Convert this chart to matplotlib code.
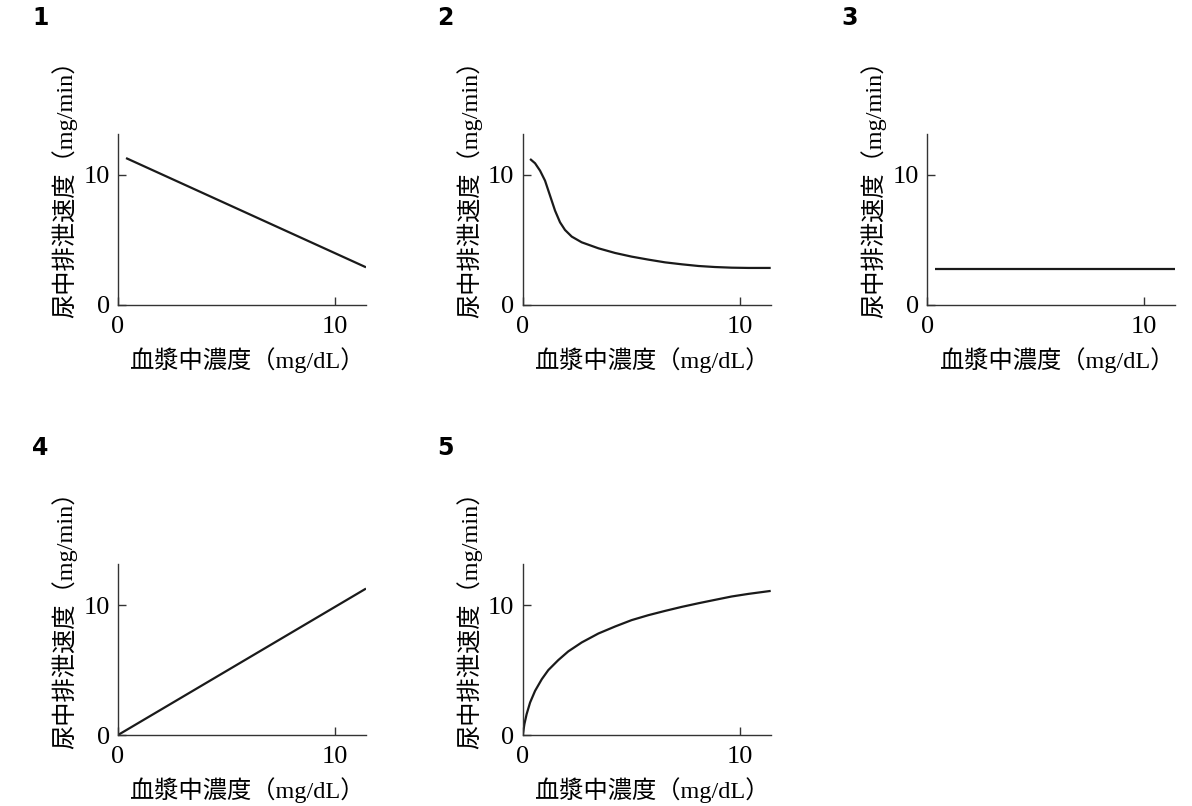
import numpy as np
import matplotlib
matplotlib.use('Agg')
import matplotlib.pyplot as plt

plt.rcParams['font.family'] = ['Liberation Serif', 'Noto Sans CJK JP']

# データ
x_lin1 = [0.37, 11.43]
y_lin1 = [11.3, 2.9]

x_sig = [0.34, 0.57, 0.8, 1.03, 1.26, 1.49, 1.72, 1.95, 2.26, 2.72, 3.49, 4.26,
         5.02, 5.79, 6.56, 7.33, 8.1, 8.86, 9.63, 10.4, 11.43]
y_sig = [11.23, 10.9, 10.33, 9.56, 8.41, 7.26, 6.36, 5.77, 5.26, 4.82, 4.36, 4.0,
         3.72, 3.49, 3.28, 3.13, 3.0, 2.92, 2.87, 2.85, 2.85]

x_const = [0.36, 11.43]
y_const = [2.75, 2.75]

x_lin4 = [0.0, 11.43]
y_lin4 = [0.0, 11.28]

x_sat = [0.0, 0.08, 0.18, 0.34, 0.57, 0.88, 1.18, 1.64, 2.1, 2.72, 3.49, 4.26,
         5.02, 5.79, 6.56, 7.33, 8.1, 8.86, 9.63, 10.4, 11.43]
y_sat = [0.0, 0.85, 1.6, 2.5, 3.4, 4.3, 5.0, 5.77, 6.44, 7.13, 7.82, 8.36,
         8.85, 9.23, 9.56, 9.87, 10.15, 10.41, 10.67, 10.87, 11.1]

panels = [
    ('1', x_lin1, y_lin1),
    ('2', x_sig, y_sig),
    ('3', x_const, y_const),
    ('4', x_lin4, y_lin4),
    ('5', x_sat, y_sat),
]

ylabel = '尿中排泄速度（mg/min）'
xlabel = '血漿中濃度（mg/dL）'

W, H = 1192, 806
fig = plt.figure(figsize=(W / 100, H / 100), dpi=100)

lefts = [118, 522.7, 927.3]
tops = [134, 564.3]
bottoms = [305, 735]
width = 248

for i, (num, xs, ys) in enumerate(panels):
    row = i // 3
    col = i % 3
    l = lefts[col]
    b = bottoms[row]
    t = tops[row]
    ax = fig.add_axes([l / W, (H - b) / H, width / W, (b - t) / H])
    ax.plot(xs, ys, color='#1a1a1a', lw=1.6, solid_capstyle='butt',
            solid_joinstyle='round')
    ax.set_xlim(0, 11.43)
    ax.set_ylim(0, 13.15)
    ax.spines['top'].set_visible(False)
    ax.spines['right'].set_visible(False)
    for s in ('left', 'bottom'):
        ax.spines[s].set_linewidth(1.0)
        ax.spines[s].set_color('#333333')
    ax.set_xticks([0, 10])
    ax.set_yticks([0, 10])
    ax.tick_params(direction='in', length=6, width=1.0, color='#333333',
                   labelsize=19)
    ax.tick_params(axis='x', pad=8)
    ax.tick_params(axis='y', pad=6)
    ax.set_xlabel(xlabel, fontsize=17.5)
    ax.xaxis.set_label_coords(0.522, -0.245)
    ax.set_ylabel(ylabel, fontsize=17.5)
    ax.yaxis.set_label_coords(-0.165, 0.71)

    fig.text((lefts[col] - 86) / W, (H - (tops[row] - 116)) / H, num,
             fontsize=17, fontweight='bold', family=['DejaVu Sans'],
             ha='left', va='center')

fig.savefig('out.png', dpi=100)
